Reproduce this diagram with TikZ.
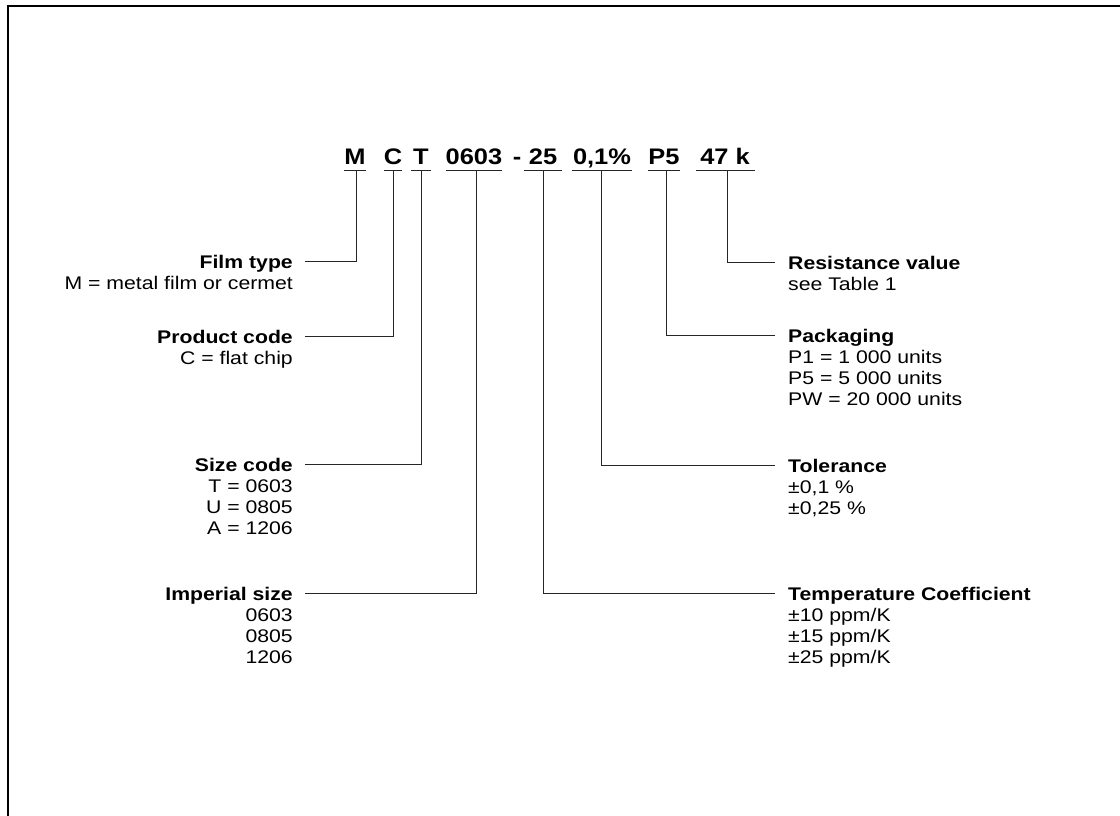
\documentclass[tikz,border=0pt]{standalone}
\usepackage{fontspec}
\setmainfont{Liberation Sans}
\usepackage{graphicx}
\newcommand\xs[1]{\scalebox{1.16}[1]{#1}}
\newcommand\xc[1]{\scalebox{1.13}[1]{#1}}
\newcommand\lblL[1]{\xs{\begin{tabular}[t]{@{}l@{}}#1\end{tabular}}}
\newcommand\lblR[1]{\xs{\begin{tabular}[t]{@{}r@{}}#1\end{tabular}}}
\begin{document}
\begin{tikzpicture}[x=1pt,y=-1pt,
  code/.style={font=\fontsize{22.5}{27}\selectfont\bfseries, inner sep=0pt, anchor=base},
  ttl/.style={font=\fontsize{18.3}{21}\selectfont\bfseries, inner sep=0pt, text height=13pt, text depth=0pt},
  det/.style={font=\fontsize{18.3}{21}\selectfont, inner sep=0pt},
  lead/.style={line width=1pt, draw=black!85},
  frame/.style={line width=2pt, draw=black}]
\useasboundingbox (0,0) rectangle (1120,816);
\draw[frame] (8,816) -- (8,6) -- (1120,6);

% code line
\node[code] (kM) at (355,164) {\xc{M}};
\node[code] (kC) at (393,164) {\xc{C}};
\node[code] (kT) at (421,164) {\xc{T}};
\node[code] (k0603) at (474,164) {\xc{0603}};
\node[code] (kdash) at (517,164) {\xc{-}};
\node[code] (k25) at (543,164) {\xc{25}};
\node[code] (ktol) at (602,164) {\xc{0,1\%}};
\node[code] (kP5) at (664,164) {\xc{P5}};
\node[code] (k47) at (725,164) {\xc{47 k}};

% underlines
\draw[lead] (344,170) -- (366,170);
\draw[lead] (384,170) -- (402,170);
\draw[lead] (411,170) -- (431,170);
\draw[lead] (446,170) -- (502,170);
\draw[lead] (524,170) -- (562,170);
\draw[lead] (572,170) -- (632,170);
\draw[lead] (648,170) -- (680,170);
\draw[lead] (696,170) -- (755,170);

\coordinate (sM) at (356,170);
\coordinate (sC) at (393,170);
\coordinate (sT) at (421,170);
\coordinate (s0603) at (476,170);
\coordinate (s25) at (543,170);
\coordinate (stol) at (601,170);
\coordinate (sP5) at (666,170);
\coordinate (s47) at (727,170);

% left labels
\node[ttl, anchor=base east] (ft) at (293,268) {\xs{Film type}};
\node[det, anchor=base east] (ftd) at (293,289) {\lblR{M = metal film or cermet}};
\node[ttl, anchor=base east] (pc) at (293,343) {\xs{Product code}};
\node[det, anchor=base east] (pcd) at (293,364) {\lblR{C = flat chip}};
\node[ttl, anchor=base east] (sc) at (293,471) {\xs{Size code}};
\node[det, anchor=base east] (scd) at (293,492) {\lblR{T = 0603\\U = 0805\\A = 1206}};
\node[ttl, anchor=base east] (is) at (293,600) {\xs{Imperial size}};
\node[det, anchor=base east] (isd) at (293,621) {\lblR{0603\\0805\\1206}};

% right labels
\node[ttl, anchor=base west] (rv) at (788,269) {\xs{Resistance value}};
\node[det, anchor=base west] (rvd) at (788,290) {\lblL{see Table 1}};
\node[ttl, anchor=base west] (pk) at (788,342) {\xs{Packaging}};
\node[det, anchor=base west] (pkd) at (788,363) {\lblL{P1 = 1 000 units\\P5 = 5 000 units\\PW = 20 000 units}};
\node[ttl, anchor=base west] (tl) at (788,472) {\xs{Tolerance}};
\node[det, anchor=base west] (tld) at (788,493) {\lblL{±0,1 \%\\±0,25 \%}};
\node[ttl, anchor=base west] (tc) at (788,600) {\xs{Temperature Coefficient}};
\node[det, anchor=base west] (tcd) at (788,621) {\lblL{±10 ppm/K\\±15 ppm/K\\±25 ppm/K}};

% leaders
\draw[lead] ([xshift=12pt]ft.east) -| (sM);
\draw[lead] ([xshift=12pt]pc.east) -| (sC);
\draw[lead] ([xshift=12pt]sc.east) -| (sT);
\draw[lead] ([xshift=12pt]is.east) -| (s0603);
\draw[lead] ([xshift=-13pt]rv.west) -| (s47);
\draw[lead] ([xshift=-13pt]pk.west) -| (sP5);
\draw[lead] ([xshift=-13pt]tl.west) -| (stol);
\draw[lead] ([xshift=-13pt]tc.west) -| (s25);
\end{tikzpicture}
\end{document}
